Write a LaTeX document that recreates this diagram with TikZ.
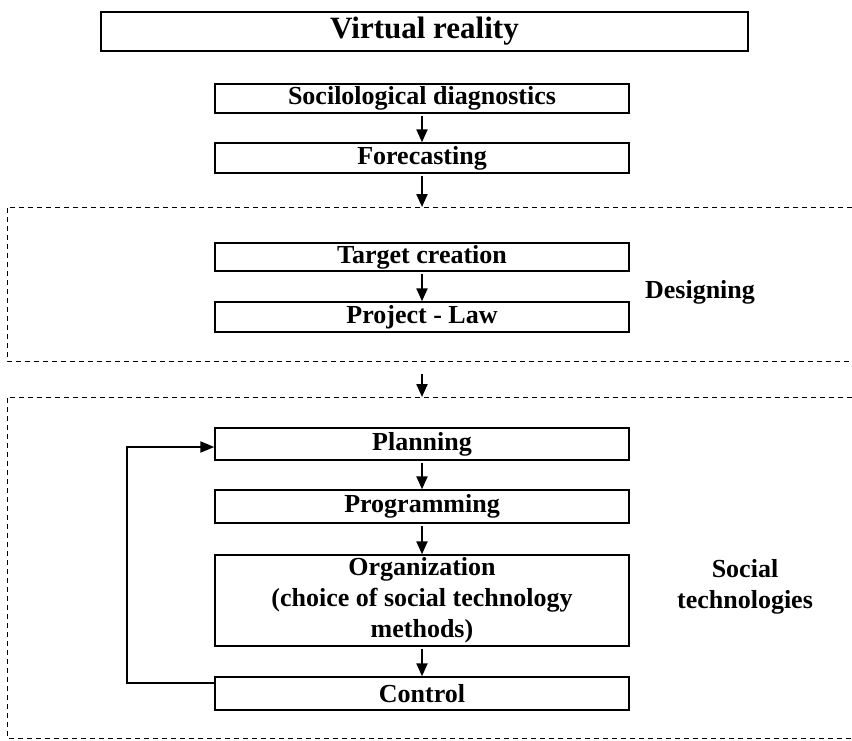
\documentclass[tikz,border=0pt]{standalone}
\usepackage{fontspec}
\setmainfont{Liberation Serif}
\usetikzlibrary{arrows.meta}
\begin{document}
\begin{tikzpicture}[x=1pt,y=-1pt,
  every node/.style={font=\bfseries\fontsize{26}{31}\selectfont, inner sep=0pt},
  stepbox/.style={draw, line width=1.4pt, minimum width=414pt, align=center},
  flow/.style={line width=2.2pt, -{Triangle[length=13pt,width=11pt]}, shorten <=2pt},
  dashline/.style={line width=0.9pt, dash pattern=on 5pt off 4pt},
  lbl/.style={align=center}]
\useasboundingbox (0,0) rectangle (852,740);
% title
\node[draw, line width=1.4pt, minimum width=647pt, minimum height=39pt,
      font=\bfseries\fontsize{31}{36}\selectfont] (vr) at (424.5,31.5) {Virtual reality};
% upper steps
\node[stepbox, minimum height=29pt] (soc) at (422,98.5) {Socilological diagnostics};
\node[stepbox, minimum height=30pt] (fore) at (422,158) {Forecasting};
% designing dashed frame
\coordinate (d1a) at (852,207);
\coordinate (d1b) at (7,207);
\coordinate (d1c) at (7,361);
\coordinate (d1d) at (852,361);
\coordinate (d1in) at (422,207);
\draw[dashline] (d1a) -- (d1b) -- (d1c) -- (d1d);
\node[stepbox, minimum height=28pt] (tgt) at (422,257) {Target creation};
\node[stepbox, minimum height=30pt] (proj) at (422,317) {Project - Law};
\node[lbl] (des) at (700,292) {Designing};
% social technologies dashed frame
\coordinate (d2a) at (852,397);
\coordinate (d2b) at (7,397);
\coordinate (d2c) at (7,738);
\coordinate (d2d) at (852,738);
\coordinate (d2in) at (422,397);
\coordinate (d1out) at (422,374);
\draw[dashline] (d2a) -- (d2b) -- (d2c) -- (d2d);
\node[stepbox, minimum height=32pt] (plan) at (422,444) {Planning};
\node[stepbox, minimum height=33pt] (prog) at (422,506.5) {Programming};
\node[stepbox, minimum height=91pt] (org) at (422,600.5) {Organization\\(choice of social technology\\methods)};
\node[stepbox, minimum height=33pt] (ctrl) at (422,693.5) {Control};
\node[lbl] (soct) at (745,587) {Social\\technologies};
% arrows
\draw[flow] (soc.south) -- (fore.north);
\draw[flow] (fore.south) -- (d1in);
\draw[flow] (tgt.south) -- (proj.north);
\draw[flow, shorten <=0pt] (d1out) -- (d2in);
\draw[flow] (plan.south) -- (prog.north);
\draw[flow] (prog.south) -- (org.north);
\draw[flow] (org.south) -- (ctrl.north);
% feedback loop
\coordinate (fb) at (127,560);
\draw[line width=2pt, -{Triangle[length=14pt,width=11pt]}]
  ([yshift=10.5pt]ctrl.west) -| (fb) |- ([yshift=-3pt]plan.west);
\end{tikzpicture}
\end{document}
